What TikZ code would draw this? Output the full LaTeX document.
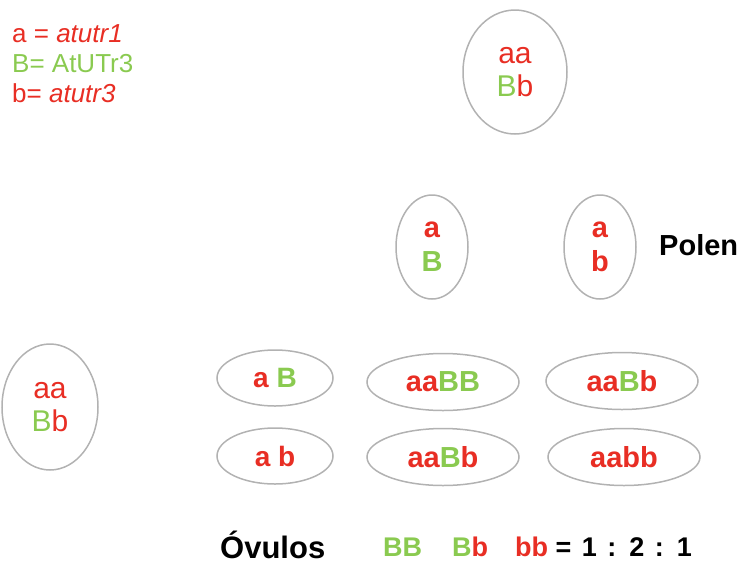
\documentclass[tikz,border=0pt]{standalone}
\usepackage{fontspec}
\setmainfont{Liberation Sans}
\usetikzlibrary{shapes.geometric}
\definecolor{allred}{RGB}{232,46,36}
\definecolor{allgreen}{RGB}{138,202,80}
\definecolor{cellline}{RGB}{178,178,178}
\newcommand{\ared}[1]{\textcolor{allred}{#1}}
\newcommand{\agreen}[1]{\textcolor{allgreen}{#1}}
\begin{document}
\begin{tikzpicture}[x=1pt,y=-1pt,
  cell/.style={ellipse, draw=cellline, line width=1.5pt, inner sep=0pt, align=center},
  parentcell/.style={cell, minimum width=104, minimum height=124, font=\fontsize{30}{33}\selectfont},
  pollencell/.style={cell, minimum width=72, minimum height=104, font=\bfseries\fontsize{29}{34}\selectfont},
  ovulecell/.style={cell, minimum width=116, minimum height=56, font=\bfseries\fontsize{28}{30}\selectfont},
  zygote/.style={cell, minimum width=152, minimum height=57, font=\bfseries\fontsize{29}{30}\selectfont},
  legend/.style={anchor=base west, inner sep=0pt, font=\fontsize{26}{28}\selectfont},
  heading/.style={anchor=base west, inner sep=0pt, font=\bfseries\fontsize{29}{31}\selectfont}]
\useasboundingbox (0,0) rectangle (748,566);

% allele key
\node[legend] (keya) at (12,42) {\ared{a = \textit{atutr1}}};
\node[legend] (keyB) at (12,72) {\agreen{B= AtUTr3}};
\node[legend] (keyb) at (12,102) {\ared{b= \textit{atutr3}}};

% parent plant and its pollen
\node[parentcell] (father) at (515,72) {\ared{aa}\\\agreen{B}\ared{b}};
\node[pollencell] (pollenB) at (432,247) {\ared{a}\\\agreen{B}};
\node[pollencell] (pollenb) at (600,247) {\ared{a}\\\ared{b}};
\node[heading] (polen) at (659,255) {Polen};

% mother plant and its ovules
\node[parentcell, minimum width=96, minimum height=126] (mother) at (50,407) {\ared{aa}\\\agreen{B}\ared{b}};
\node[ovulecell] (ovuleB) at (275,378) {\ared{a} \agreen{B}};
\node[ovulecell] (ovuleb) at (275,456) {\ared{a} \ared{b}};

% offspring genotypes
\node[zygote] (zBB) at (443,382) {\ared{aa}\agreen{BB}};
\node[zygote] (zBb1) at (622,381) {\ared{aa}\agreen{B}\ared{b}};
\node[zygote] (zBb2) at (443,457) {\ared{aa}\agreen{B}\ared{b}};
\node[zygote] (zbb) at (624,457) {\ared{aabb}};

% segregation ratio
\node[heading, font=\bfseries\fontsize{31}{33}\selectfont] (ovulos) at (220,558) {Óvulos};
\node[anchor=base west, inner sep=0pt, font=\bfseries\fontsize{27}{29}\selectfont] (ratio) at (383,556)
  {\agreen{BB}\hspace{30pt}\agreen{B}\ared{b}\hspace{27pt}\ared{bb} =\hspace{3pt} 1\hspace{3pt} :\hspace{3pt} 2\hspace{3pt} :\hspace{3pt} 1};
\end{tikzpicture}
\end{document}
